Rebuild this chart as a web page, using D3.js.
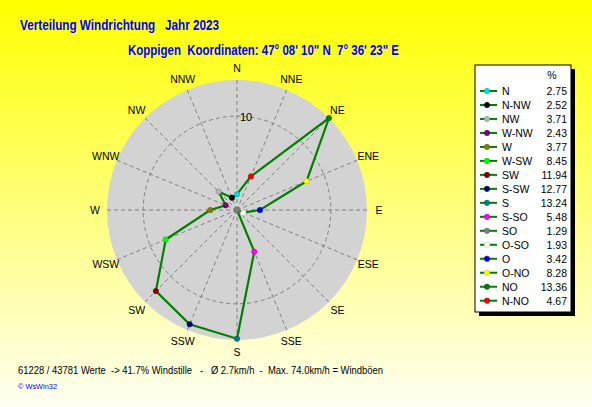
<!DOCTYPE html>
<html>
<head>
<meta charset="utf-8">
<script src="https://cdn.jsdelivr.net/npm/d3@7"></script>
<style>
html,body{margin:0;padding:0;}
svg{display:block;}
text{font-family:"Liberation Sans",Arial,sans-serif;white-space:pre;}
</style>
</head>
<body>
<svg id="chart" width="592" height="407"></svg>
<script>
// ---- data ----
const directions = ["N","N-NW","NW","W-NW","W","W-SW","SW","S-SW","S","S-SO","SO","O-SO","O","O-NO","NO","N-NO"];
const percents   = [2.75,2.52,3.71,2.43,3.77,8.45,11.94,12.77,13.24,5.48,1.29,1.93,3.42,8.28,13.36,4.67];
const markerColors = ["#00E0E0","#000000","#B8B8B8","#800080","#808000","#00FF00","#800000","#000080","#008080","#FF00FF","#808080","#FFFFFF","#0000FF","#FFFF00","#008000","#FF0000"];
const compassLabels = ["N","NNE","NE","ENE","E","ESE","SE","SSE","S","SSW","SW","WSW","W","WNW","NW","NNW"];
const ringTicks = [10];
const title1 = "Verteilung Windrichtung   Jahr 2023";
const title2 = "Koppigen  Koordinaten: 47° 08' 10\" N  7° 36' 23\" E";
const footer1 = "61228 / 43781 Werte  -> 41.7% Windstille   -   Ø 2.7km/h  -  Max. 74.0km/h = Windböen";
const footer2 = "© WsWin32";

// ---- layout ----
const W = 592, H = 407;
const cx = 237, cy = 210, R = 130;
const svg = d3.select("#chart");

const defs = svg.append("defs");
const grad = defs.append("linearGradient").attr("id","bg").attr("x1",0).attr("y1",0).attr("x2",0).attr("y2",1);
grad.append("stop").attr("offset","0%").attr("stop-color","#FFFF00");
grad.append("stop").attr("offset","100%").attr("stop-color","#FFFFF2");
svg.append("rect").attr("width",W).attr("height",H).attr("fill","url(#bg)");

// titles
svg.append("text").attr("x",20).attr("y",30).attr("fill","#0000FF")
  .attr("font-size",14).attr("font-weight","bold")
  .attr("textLength",199).attr("lengthAdjust","spacingAndGlyphs").text(title1);
svg.append("text").attr("x",128).attr("y",55).attr("fill","#0000FF")
  .attr("font-size",14).attr("font-weight","bold")
  .attr("textLength",271).attr("lengthAdjust","spacingAndGlyphs").text(title2);

// scales
const r = d3.scaleLinear().domain([d3.min(percents), d3.max(percents)]).range([0, R]);
const angDir = d3.scaleLinear().domain([0, directions.length]).range([0, -2*Math.PI]);   // legend order runs counter-clockwise
const angCompass = d3.scaleLinear().domain([0, compassLabels.length]).range([0, 2*Math.PI]);

const g = svg.append("g").attr("transform",`translate(${cx},${cy})`);
g.append("circle").attr("r",R).attr("fill","#D3D3D3");

// spokes
g.selectAll("line.spoke").data(compassLabels).join("line").attr("class","spoke")
  .attr("x1",0).attr("y1",0)
  .attr("x2",(d,i)=>R*Math.sin(angCompass(i)))
  .attr("y2",(d,i)=>-R*Math.cos(angCompass(i)))
  .attr("stroke","#808080").attr("stroke-width",1).attr("stroke-dasharray","4,3");

// rings
g.selectAll("circle.ring").data(ringTicks).join("circle").attr("class","ring")
  .attr("r",d=>r(d)).attr("fill","none").attr("stroke","#808080").attr("stroke-dasharray","4,3");
g.selectAll("text.ringlab").data(ringTicks).join("text").attr("class","ringlab")
  .attr("x",3).attr("y",d=>-r(d)+5).attr("font-size",11).attr("fill","#000").text(d=>d);

// compass labels
g.selectAll("text.cl").data(compassLabels).join("text").attr("class","cl")
  .attr("x",(d,i)=>142*Math.sin(angCompass(i)))
  .attr("y",(d,i)=>-142*Math.cos(angCompass(i)))
  .attr("text-anchor","middle").attr("dominant-baseline","central")
  .attr("font-size",10.5).attr("fill","#000").text(d=>d);

// polygon
const pts = percents.map((v,i)=>[angDir(i), r(v)]);
const line = d3.lineRadial().angle(d=>d[0]).radius(d=>d[1]).curve(d3.curveLinearClosed);
g.append("path").attr("d",line(pts)).attr("fill","none").attr("stroke","#008000").attr("stroke-width",2.2);

// markers
g.selectAll("circle.mk").data(percents).join("circle").attr("class","mk")
  .attr("cx",(v,i)=>r(v)*Math.sin(angDir(i)))
  .attr("cy",(v,i)=>-r(v)*Math.cos(angDir(i)))
  .attr("r",2.6)
  .attr("fill",(v,i)=>markerColors[i])
  .attr("stroke",(v,i)=>d3.color(markerColors[i]).darker(0.6))
  .attr("stroke-width",0.8);

// legend
const lx = 475, ly = 65, lw = 96, lh = 247;
svg.append("rect").attr("x",lx+4).attr("y",ly+4).attr("width",lw).attr("height",lh).attr("fill","#000");
svg.append("rect").attr("x",lx).attr("y",ly).attr("width",lw).attr("height",lh).attr("fill","#FFF").attr("stroke","#000").attr("stroke-width",1);
svg.append("text").attr("x",552).attr("y",79).attr("text-anchor","middle").attr("font-size",10.5).text("%");
const rowY = d3.scaleLinear().domain([0,1]).range([91, 91+13.98]);
const lg = svg.selectAll("g.li").data(directions).join("g").attr("class","li")
  .attr("transform",(d,i)=>`translate(0,${rowY(i)})`);
lg.append("line").attr("x1",480).attr("x2",497).attr("y1",0).attr("y2",0).attr("stroke","#008000").attr("stroke-width",2);
lg.append("circle").attr("cx",487).attr("cy",0).attr("r",2.6)
  .attr("fill",(d,i)=>markerColors[i]).attr("stroke",(d,i)=>d3.color(markerColors[i]).darker(0.6)).attr("stroke-width",0.8);
lg.append("text").attr("x",502).attr("y",4).attr("font-size",10.5).text(d=>d);
lg.append("text").attr("x",567).attr("y",4).attr("font-size",10.5).attr("text-anchor","end").text((d,i)=>percents[i].toFixed(2));

// footer
svg.append("text").attr("x",18).attr("y",374).attr("font-size",10.5).attr("fill","#000")
  .attr("textLength",365).attr("lengthAdjust","spacingAndGlyphs").text(footer1);
svg.append("text").attr("x",18).attr("y",389).attr("font-size",8).attr("fill","#0000FF")
  .attr("textLength",39).attr("lengthAdjust","spacingAndGlyphs").text(footer2);
</script>
</body>
</html>
